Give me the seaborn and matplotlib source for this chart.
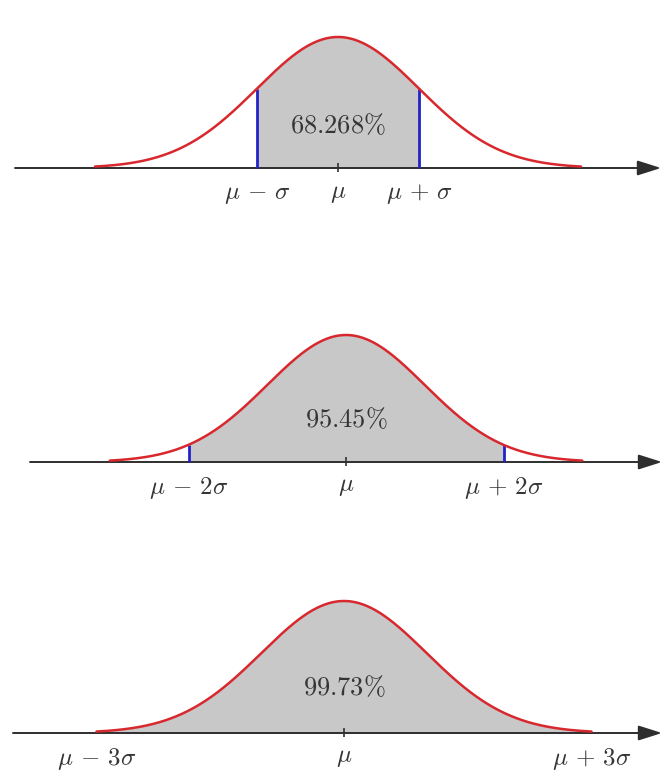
import numpy as np
import pandas as pd
import matplotlib
matplotlib.use("Agg")
import matplotlib.pyplot as plt
import seaborn as sns

# ---- chart content ----
sigma_multiples = [1, 2, 3]                     # shaded band: mu +/- k*sigma
coverage_labels = ["68.268\\%", "95.45\\%", "99.73\\%"]
left_labels = [r"$\mu\,-\,\sigma$", r"$\mu\,-\,2\sigma$", r"$\mu\,-\,3\sigma$"]
right_labels = [r"$\mu\,+\,\sigma$", r"$\mu\,+\,2\sigma$", r"$\mu\,+\,3\sigma$"]
center_label = r"$\mu$"
show_bound_lines = [True, True, False]
curve_extent = 3.0                              # curve drawn over mu +/- 3 sigma
mu = 0.0
sigma = 1.0

# ---- layout (pixels of the 663x778 canvas) ----
W, H = 663, 778
mu_px = [338, 346, 344]
sig_px = [81, 78.75, 82.5]
axis_y_px = [168, 462, 733]
peak_px = [131, 127, 132]
axis_start_px = [15, 30, 13]
axis_end_px = [661, 662, 662]
pct_offset_px = [42, 42, 45]   # label height above axis

sns.set_theme(style="white")
plt.rcParams["mathtext.fontset"] = "cm"

fig = plt.figure(figsize=(W / 100, H / 100), dpi=100)
fig.patch.set_facecolor("white")

x = np.linspace(mu - curve_extent * sigma, mu + curve_extent * sigma, 601)
pdf = np.exp(-0.5 * ((x - mu) / sigma) ** 2) / (sigma * np.sqrt(2 * np.pi))
peak = 1.0 / (sigma * np.sqrt(2 * np.pi))

txt_color = "#353535"

for i, k in enumerate(sigma_multiples):
    above, below = 165, 45
    ax = fig.add_axes([0, (H - (axis_y_px[i] + below)) / H, 1, (above + below) / H])
    kp = peak / peak_px[i]  # data units per pixel (y)
    sp = 1.0 / sig_px[i]    # data units per pixel (x)
    ax.set_xlim(-mu_px[i] * sp, (W - mu_px[i]) * sp)
    ax.set_ylim(-below * kp, above * kp)
    ax.set_axis_off()

    df = pd.DataFrame({"x": x, "pdf": pdf})
    band = (df["x"] >= mu - k * sigma) & (df["x"] <= mu + k * sigma)
    ax.fill_between(df["x"][band], 0, df["pdf"][band], color="#c8c8c8", lw=0, zorder=1)

    # axis with arrow
    ax.annotate("", xy=((axis_end_px[i] - mu_px[i]) * sp, 0),
                xytext=((axis_start_px[i] - mu_px[i]) * sp, 0),
                arrowprops=dict(arrowstyle="-|>,head_length=1.2,head_width=0.38",
                                color="#2e2e2e", lw=1.4, shrinkA=0, shrinkB=0),
                zorder=2)

    if show_bound_lines[i]:
        for b in (mu - k * sigma, mu + k * sigma):
            h = np.exp(-0.5 * ((b - mu) / sigma) ** 2) / (sigma * np.sqrt(2 * np.pi))
            ax.vlines(b, 0, h, color="#2222c8", lw=2.0, zorder=3)

    ax.vlines(mu, -4 * kp, 5 * kp, color="#333333", lw=1.2, zorder=3)

    sns.lineplot(data=df, x="x", y="pdf", ax=ax, color="#d8282e", lw=1.8,
                 zorder=4, legend=False)
    ax.set_axis_off()

    ax.text(mu, pct_offset_px[i] * kp, "$" + coverage_labels[i] + "$", ha="center",
            va="center", fontsize=19, color=txt_color, zorder=5)

    ly = -26 * kp
    ax.text(mu - k * sigma, ly, left_labels[i], ha="center", va="center",
            fontsize=18, color=txt_color)
    ax.text(mu, ly + (1 * kp if i == 0 else 2 * kp), center_label, ha="center", va="center",
            fontsize=18, color=txt_color)
    ax.text(mu + k * sigma, ly, right_labels[i], ha="center", va="center",
            fontsize=18, color=txt_color)

fig.savefig("out.png", dpi=100, facecolor="white")
